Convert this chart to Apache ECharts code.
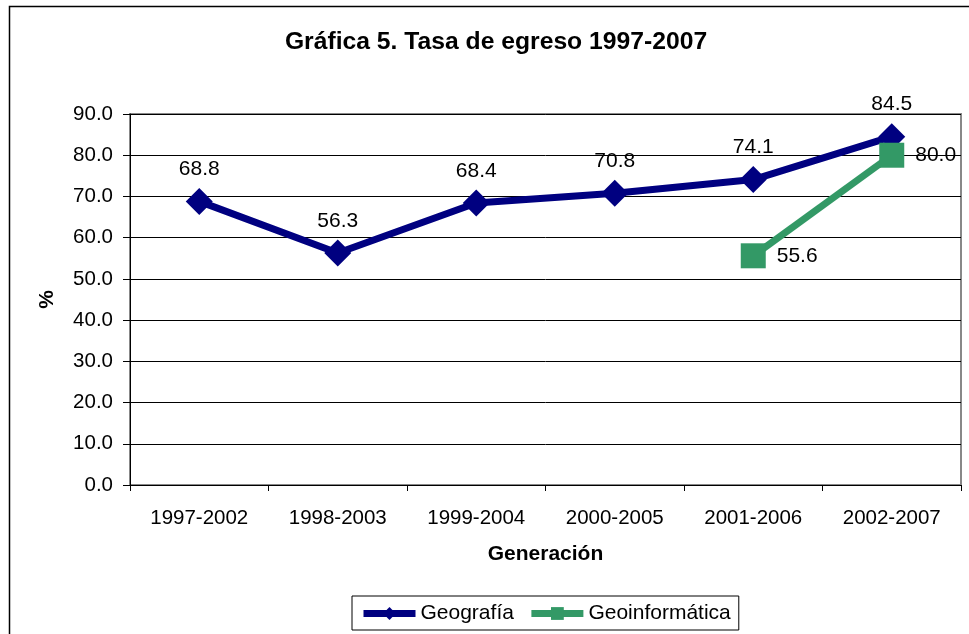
<!DOCTYPE html>
<html>
<head>
<meta charset="utf-8">
<script src="https://cdn.jsdelivr.net/npm/echarts@6/dist/echarts.min.js"></script>
<style>
  html, body { margin: 0; padding: 0; background: #fff; }
  #chart { width: 969px; height: 634px; }
</style>
</head>
<body>
<div id="chart"></div>
<script>
const generaciones = ['1997-2002', '1998-2003', '1999-2004', '2000-2005', '2001-2006', '2002-2007'];
const geografia = [68.8, 56.3, 68.4, 70.8, 74.1, 84.5];
const geoinformatica = [null, null, null, null, 55.6, 80.0];

const font = 'Liberation Sans, Arial, sans-serif';

const chart = echarts.init(document.getElementById('chart'));
chart.setOption({
  animation: false,
  textStyle: { fontFamily: font },
  graphic: [
    {
      type: 'rect',
      shape: { x: 9.5, y: 6.5, width: 1000, height: 700 },
      style: { fill: 'none', stroke: '#000', lineWidth: 1.5 },
      silent: true,
    },
  ],
  title: {
    text: 'Gráfica 5. Tasa de egreso 1997-2007',
    left: 491,
    textAlign: 'center',
    top: 25,
    textStyle: { fontSize: 24.7, fontWeight: 'bold', color: '#000', fontFamily: font },
  },
  grid: {
    left: 130, right: 8, top: 114, bottom: 149,
    show: true, borderColor: '#888', borderWidth: 2, backgroundColor: 'transparent',
  },
  legend: {
    bottom: 4,
    left: 352,
    itemGap: 14,
    itemWidth: 52,
    itemHeight: 16,
    padding: [7, 8, 6, 8],
    borderColor: '#000',
    borderWidth: 1,
    lineStyle: { width: 7 },
    textStyle: { fontSize: 21, color: '#000', fontFamily: font },
    data: ['Geografía', 'Geoinformática'],
  },
  xAxis: {
    type: 'category',
    data: generaciones,
    boundaryGap: true,
    name: 'Generación',
    nameLocation: 'middle',
    nameGap: 59,
    nameTextStyle: { fontSize: 21, fontWeight: 'bold', color: '#000', fontFamily: font },
    axisLine: { lineStyle: { color: '#000', width: 1 } },
    axisTick: { show: true, alignWithLabel: false, length: 6, lineStyle: { color: '#000' } },
    axisLabel: { fontSize: 20.5, color: '#000', margin: 23, fontFamily: font },
  },
  yAxis: {
    type: 'value',
    min: 0,
    max: 90,
    interval: 10,
    name: '%',
    nameLocation: 'middle',
    nameGap: 72,
    nameRotate: 90,
    nameTextStyle: { fontSize: 21, fontWeight: 'bold', color: '#000', fontFamily: font },
    axisLine: { show: true, lineStyle: { color: '#000', width: 1 } },
    axisTick: { show: true, length: 7, lineStyle: { color: '#000' } },
    axisLabel: { fontSize: 20.5, color: '#000', margin: 17, fontFamily: font, formatter: v => v.toFixed(1) },
    splitLine: { lineStyle: { color: '#000', width: 1 } },
  },
  series: [
    {
      name: 'Geografía',
      type: 'line',
      data: geografia,
      symbol: 'diamond',
      symbolSize: 27,
      lineStyle: { color: '#000080', width: 7 },
      itemStyle: { color: '#000080' },
      label: {
        show: true, position: 'top', distance: 8, fontSize: 21, color: '#000', fontFamily: font,
        formatter: p => p.value.toFixed(1),
      },
    },
    {
      name: 'Geoinformática',
      type: 'line',
      data: geoinformatica,
      symbol: 'rect',
      symbolSize: 25,
      lineStyle: { color: '#339966', width: 7 },
      itemStyle: { color: '#339966' },
      label: {
        show: true, position: 'right', distance: 11, fontSize: 21, color: '#000', fontFamily: font,
        formatter: p => p.value.toFixed(1),
      },
    },
  ],
});
</script>
</body>
</html>
